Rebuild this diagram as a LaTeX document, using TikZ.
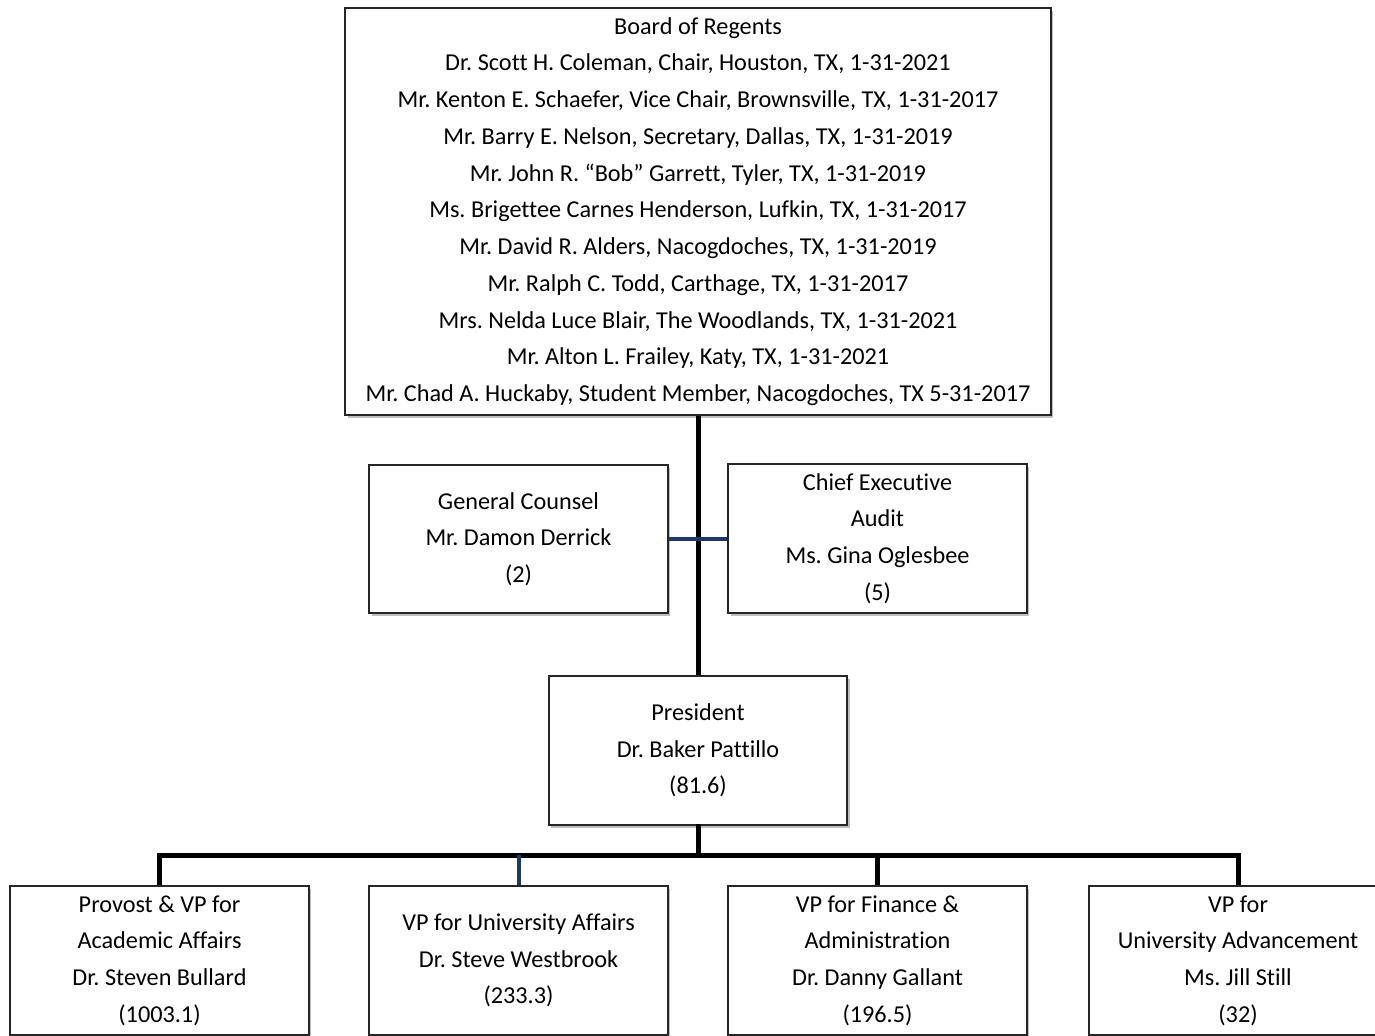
\documentclass[tikz,border=0pt]{standalone}
\usepackage{fontspec}
\setmainfont{Carlito}[Ligatures=NoCommon]
\usetikzlibrary{shadows}
\frenchspacing
\definecolor{linkblue}{RGB}{31,56,100}
\tikzset{
  orgbox/.style={draw=black!85, line width=0.04cm, fill=white, align=center,
    inner sep=0pt, minimum width=5.98cm, minimum height=2.98cm,
    font=\fontsize{13.8}{20.9}\selectfont,
    drop shadow={shadow xshift=0.05cm, shadow yshift=-0.06cm, fill=black, opacity=0.25}},
  bus/.style={line width=0.1cm, black},
  link/.style={line width=0.08cm, linkblue}
}
\begin{document}
\begin{tikzpicture}[x=0.02cm, y=-0.02cm]
\clip (0,0) rectangle (1375,1035);

% board
\node[orgbox, minimum width=14.12cm, minimum height=8.14cm] (board) at (698,211.5)
  {Board of Regents\\
   Dr. Scott H. Coleman, Chair, Houston, TX, 1-31-2021\\
   Mr. Kenton E. Schaefer, Vice Chair, Brownsville, TX, 1-31-2017\\
   Mr. Barry E. Nelson, Secretary, Dallas, TX, 1-31-2019\\
   Mr. John R. “Bob” Garrett, Tyler, TX, 1-31-2019\\
   Ms. Brigettee Carnes Henderson, Lufkin, TX, 1-31-2017\\
   Mr. David R. Alders, Nacogdoches, TX, 1-31-2019\\
   Mr. Ralph C. Todd, Carthage, TX, 1-31-2017\\
   Mrs. Nelda Luce Blair, The Woodlands, TX, 1-31-2021\\
   Mr. Alton L. Frailey, Katy, TX, 1-31-2021\\
   Mr. Chad A. Huckaby, Student Member, Nacogdoches, TX 5-31-2017};

% staff
\node[orgbox] (counsel) at (518.5,539) {General Counsel\\Mr. Damon Derrick\\(2)};
\node[orgbox] (audit) at (877.5,538.5) {Chief Executive\\Audit\\Ms. Gina Oglesbee\\(5)};

\node[orgbox] (pres) at (698,750.5) {President\\Dr. Baker Pattillo\\(81.6)};

% vice presidents
\node[orgbox] (provost) at (159.5,960.5) {Provost \& VP for\\Academic Affairs\\Dr. Steven Bullard\\(1003.1)};
\node[orgbox] (affairs) at (518.5,960.5) {VP for University Affairs\\Dr. Steve Westbrook\\(233.3)};
\node[orgbox] (finance) at (877.5,960.5) {VP for Finance \&\\Administration\\Dr. Danny Gallant\\(196.5)};
\node[orgbox] (advance) at (1238,960.5) {VP for\\University Advancement\\Ms. Jill Still\\(32)};

% connectors
\coordinate (split) at (698,855);
\draw[bus] (board.south) -- (pres.north);
\draw[link] (counsel.east) -- (counsel.east -| audit.west);
\draw[bus, line cap=rect] (pres.south) -- (split);
\draw[bus] (provost.north) -- (provost.north |- split) -- (advance.north |- split) -- (advance.north);
\draw[bus] (finance.north) -- (finance.north |- split);
\draw[link] (affairs.north) -- (affairs.north |- split);
\end{tikzpicture}
\end{document}
